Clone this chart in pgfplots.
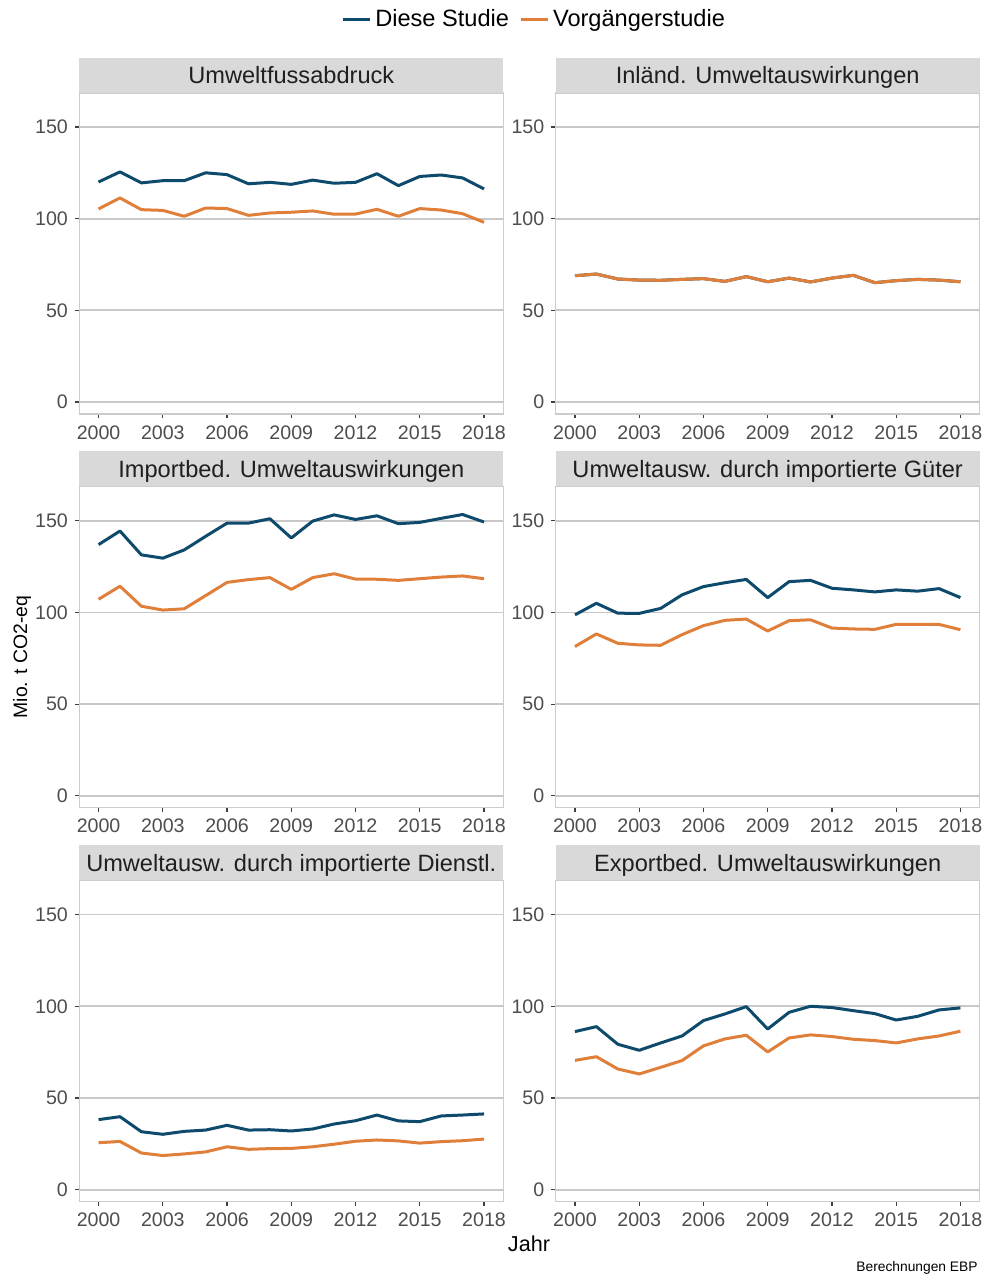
\documentclass[border=0pt]{standalone}
\usepackage{pgfplots}
\pgfplotsset{compat=1.18}
\usepackage{pgfplotstable}
\usepackage{fontspec}
\setmainfont{Liberation Sans}

\definecolor{cblue}{HTML}{0E4A6B}
\definecolor{corange}{HTML}{E07F3A}
\definecolor{stripfill}{HTML}{D9D9D9}
\definecolor{gridc}{HTML}{C8C8C8}
\definecolor{borderc}{HTML}{CCCCCC}
\definecolor{tickc}{HTML}{4D4D4D}

\pgfplotstableread{
year diese vorg
2000 120.0 105.3
2001 125.5 111.3
2002 119.5 104.9
2003 120.7 104.5
2004 120.7 101.3
2005 125.0 105.8
2006 124.0 105.5
2007 119.0 101.8
2008 119.8 103.1
2009 118.7 103.5
2010 121.0 104.2
2011 119.3 102.4
2012 119.8 102.5
2013 124.5 105.1
2014 118.0 101.3
2015 123.0 105.5
2016 123.8 104.7
2017 122.2 102.7
2018 116.2 98.0
}\tabA

\pgfplotstableread{
year diese vorg
2000 68.9 68.9
2001 69.8 69.8
2002 67.1 67.1
2003 66.5 66.5
2004 66.4 66.4
2005 66.9 66.9
2006 67.3 67.3
2007 65.8 65.8
2008 68.4 68.4
2009 65.6 65.6
2010 67.6 67.6
2011 65.5 65.5
2012 67.6 67.6
2013 69.1 69.1
2014 65.1 65.1
2015 66.2 66.2
2016 66.9 66.9
2017 66.5 66.5
2018 65.6 65.6
}\tabB

\pgfplotstableread{
year diese vorg
2000 137.0 107.2
2001 144.4 114.3
2002 131.4 103.4
2003 129.6 101.3
2004 134.1 102.0
2005 141.5 109.2
2006 148.7 116.4
2007 148.7 117.9
2008 151.1 119.0
2009 140.6 112.6
2010 149.8 119.0
2011 153.2 121.1
2012 150.7 118.2
2013 152.7 118.1
2014 148.4 117.5
2015 149.1 118.4
2016 151.3 119.3
2017 153.4 119.9
2018 149.3 118.4
}\tabC

\pgfplotstableread{
year diese vorg
2000 98.7 81.4
2001 105.0 88.3
2002 99.6 83.2
2003 99.5 82.3
2004 102.2 82.1
2005 109.6 87.9
2006 114.1 92.8
2007 116.2 95.7
2008 118.0 96.4
2009 108.1 89.9
2010 116.8 95.5
2011 117.5 96.0
2012 113.2 91.5
2013 112.3 91.0
2014 111.2 90.8
2015 112.3 93.5
2016 111.6 93.5
2017 113.0 93.5
2018 108.1 90.6
}\tabD

\pgfplotstableread{
year diese vorg
2000 38.2 25.6
2001 39.8 26.3
2002 31.6 20.0
2003 30.2 18.6
2004 31.8 19.5
2005 32.5 20.6
2006 35.1 23.4
2007 32.5 22.0
2008 32.7 22.4
2009 32.0 22.5
2010 33.1 23.4
2011 35.8 24.8
2012 37.6 26.4
2013 40.7 27.1
2014 37.5 26.6
2015 37.1 25.4
2016 40.2 26.2
2017 40.7 26.7
2018 41.3 27.6
}\tabE

\pgfplotstableread{
year diese vorg
2000 86.2 70.5
2001 88.9 72.5
2002 79.3 65.8
2003 76.0 63.1
2004 80.0 66.7
2005 83.8 70.4
2006 92.2 78.4
2007 95.8 82.2
2008 99.8 84.2
2009 87.6 75.1
2010 96.7 82.7
2011 100.0 84.4
2012 99.3 83.5
2013 97.6 82.0
2014 96.0 81.3
2015 92.5 80.0
2016 94.5 82.2
2017 98.0 83.8
2018 99.1 86.4
}\tabF

\pgfplotsset{
  panel/.style={
    scale only axis, width=212pt, height=160.5pt,
    xmin=1999.1, xmax=2018.9, ymin=-6.5, ymax=168.5,
    xtick={2000,2003,...,2018}, ytick={0,50,100,150},
    tick pos=left, tick align=outside, major tick length=2.2pt,
    major tick style={draw=black!75, line width=0.6pt},
    ymajorgrids, grid style={gridc, line width=0.9pt},
    axis line style={borderc, line width=0.6pt},
    /pgf/number format/assume math mode=true,
    xticklabel style={/pgf/number format/1000 sep={}, font=\fontsize{9.8}{10}\selectfont, text=tickc},
    yticklabel style={font=\fontsize{9.8}{10}\selectfont, text=tickc},
    every axis title shift=0pt,
    title style={at={(0.5,1)}, anchor=south, yshift=0pt, fill=stripfill,
      minimum width=212pt, minimum height=17.5pt, inner sep=0pt,
      text height=8.5pt, text depth=0pt,
      font=\fontsize{11.8}{12}\selectfont, text=black!88},
    every axis plot/.append style={line width=1.5pt, line join=round, no markers},
  },
  sBlue/.style={cblue},
  sOrange/.style={corange},
}

\begin{document}
\begin{tikzpicture}
\useasboundingbox (0,0) rectangle (493.5pt,-640.5pt);

% Row 1
\begin{axis}[panel, at={(39.65pt,-207pt)}, anchor=south west,
  title={Umweltfussabdruck},
  legend columns=2,
  legend style={at={(1.075,1.2305)}, anchor=center, draw=none, fill=none,
    font=\fontsize{11.8}{12}\selectfont,
    /tikz/every even column/.append style={column sep=3pt}},
  legend image code/.code={\draw[#1, line width=1.5pt] (0pt,0pt) -- (11pt,0pt);\path (0pt,0pt) -- (13.5pt,0pt);},
  legend cell align=left]
\addplot[sBlue] table[x=year,y=diese]{\tabA};
\addlegendentry{Diese Studie}
\addplot[sOrange] table[x=year,y=vorg]{\tabA};
\addlegendentry{Vorgängerstudie}
\end{axis}

\begin{axis}[panel, at={(277.85pt,-207pt)}, anchor=south west,
  title={Inländ. Umweltauswirkungen}]
\addplot[sBlue] table[x=year,y=diese]{\tabB};
\addplot[sOrange] table[x=year,y=vorg]{\tabB};
\end{axis}

% Row 2
\begin{axis}[panel, at={(39.65pt,-403.9pt)}, anchor=south west,
  title={Importbed. Umweltauswirkungen}]
\addplot[sBlue] table[x=year,y=diese]{\tabC};
\addplot[sOrange] table[x=year,y=vorg]{\tabC};
\end{axis}

\begin{axis}[panel, at={(277.85pt,-403.9pt)}, anchor=south west,
  title={Umweltausw. durch importierte Güter}]
\addplot[sBlue] table[x=year,y=diese]{\tabD};
\addplot[sOrange] table[x=year,y=vorg]{\tabD};
\end{axis}

% Row 3
\begin{axis}[panel, at={(39.65pt,-600.8pt)}, anchor=south west,
  title={Umweltausw. durch importierte Dienstl.}]
\addplot[sBlue] table[x=year,y=diese]{\tabE};
\addplot[sOrange] table[x=year,y=vorg]{\tabE};
\end{axis}

\begin{axis}[panel, at={(277.85pt,-600.8pt)}, anchor=south west,
  title={Exportbed. Umweltauswirkungen}]
\addplot[sBlue] table[x=year,y=diese]{\tabF};
\addplot[sOrange] table[x=year,y=vorg]{\tabF};
\end{axis}

\node[rotate=90, font=\fontsize{9.7}{11}\selectfont] at (11pt,-328.5pt) {Mio. t CO2-eq};
\node[font=\fontsize{10.8}{11}\selectfont] at (264.5pt,-622pt) {Jahr};
\node[anchor=east, font=\fontsize{6.9}{7}\selectfont, inner sep=0pt] at (489pt,-634pt) {Berechnungen EBP};
\end{tikzpicture}
\end{document}
